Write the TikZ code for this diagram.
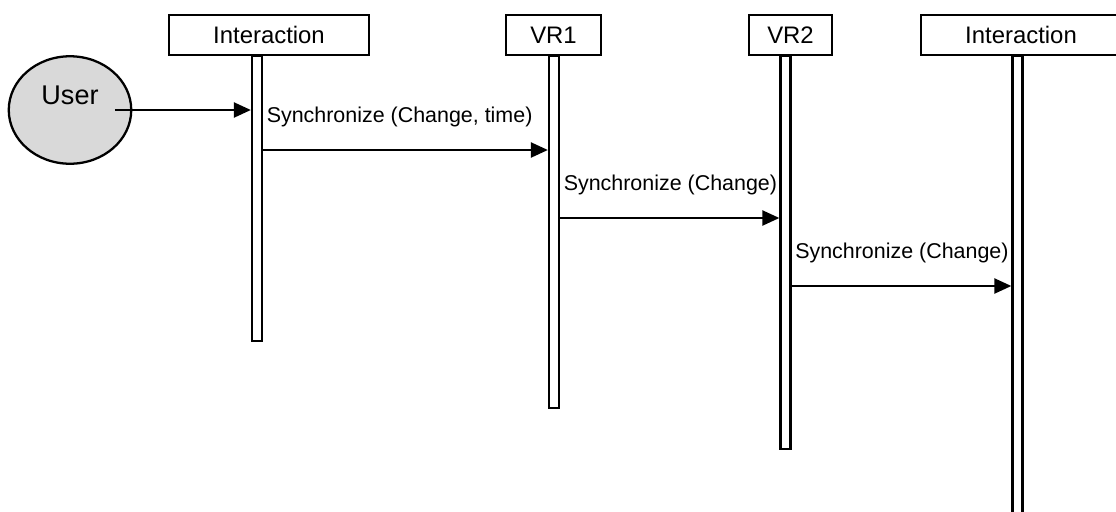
\documentclass[tikz,border=0pt]{standalone}
\usepackage{fontspec}
\setmainfont{Liberation Sans}
\usetikzlibrary{arrows.meta, positioning, shapes.geometric}

\begin{document}
\begin{tikzpicture}[
    x=0.02cm, y=-0.02cm,
    head/.style={draw, line width=1.3pt, minimum height=0.8cm, inner sep=0pt,
                 font=\fontsize{13.6}{16}\selectfont},
    life/.style={draw, line width=1.3pt, minimum width=0.2cm, inner sep=0pt,
                 anchor=north},
    actor/.style={draw, ellipse, line width=1.3pt, fill=gray!30,
                  minimum width=2.45cm, minimum height=2.15cm},
    msg/.style={-{Triangle[length=0.34cm, width=0.3cm]}, line width=1.3pt},
    lbl/.style={font=\fontsize{12.2}{14}\selectfont, inner sep=0pt,
                anchor=base west, xshift=0.05cm, yshift=0.56cm}
  ]
    \useasboundingbox (0,0) rectangle (1116,511);
    \clip (0,0) rectangle (1116,511);

    % objects along the top
    \node[head, minimum width=4cm]    (inter1) at (269,35)   {Interaction};
    \node[head, minimum width=1.9cm]  (vr1)    at (553.5,35) {VR1};
    \node[head, minimum width=1.66cm] (vr2)    at (790.5,35) {VR2};
    \node[head, minimum width=4cm]    (inter2) at (1021,35)  {Interaction};

    % lifelines
    \node[life, minimum height=5.7cm]  (life1) at (257,55)    {};
    \node[life, minimum height=7.04cm] (life2) at (554,55)    {};
    \node[life, minimum height=7.86cm] (life3) at (785.5,55)  {};
    \node[life, minimum height=9.4cm]  (life4) at (1017.5,55) {};

    % the user
    \node[actor] (user) at (70,110) {};
    \node[font=\fontsize{15.4}{18}\selectfont] (usertext) at (70,95) {User};

    % messages
    \draw[msg] ([xshift=0.9cm]user.center) -- (life1.west |- user.center);
    \draw[msg] (life1.east |- 0,150) -- (life2.west |- 0,150)
      node[lbl, pos=0] {Synchronize (Change, time)};
    \draw[msg] (life2.east |- 0,218) -- (life3.west |- 0,218)
      node[lbl, pos=0] {Synchronize (Change)};
    \draw[msg] (life3.east |- 0,286) -- (life4.west |- 0,286)
      node[lbl, pos=0] {Synchronize (Change)};
  \end{tikzpicture}
\end{document}
